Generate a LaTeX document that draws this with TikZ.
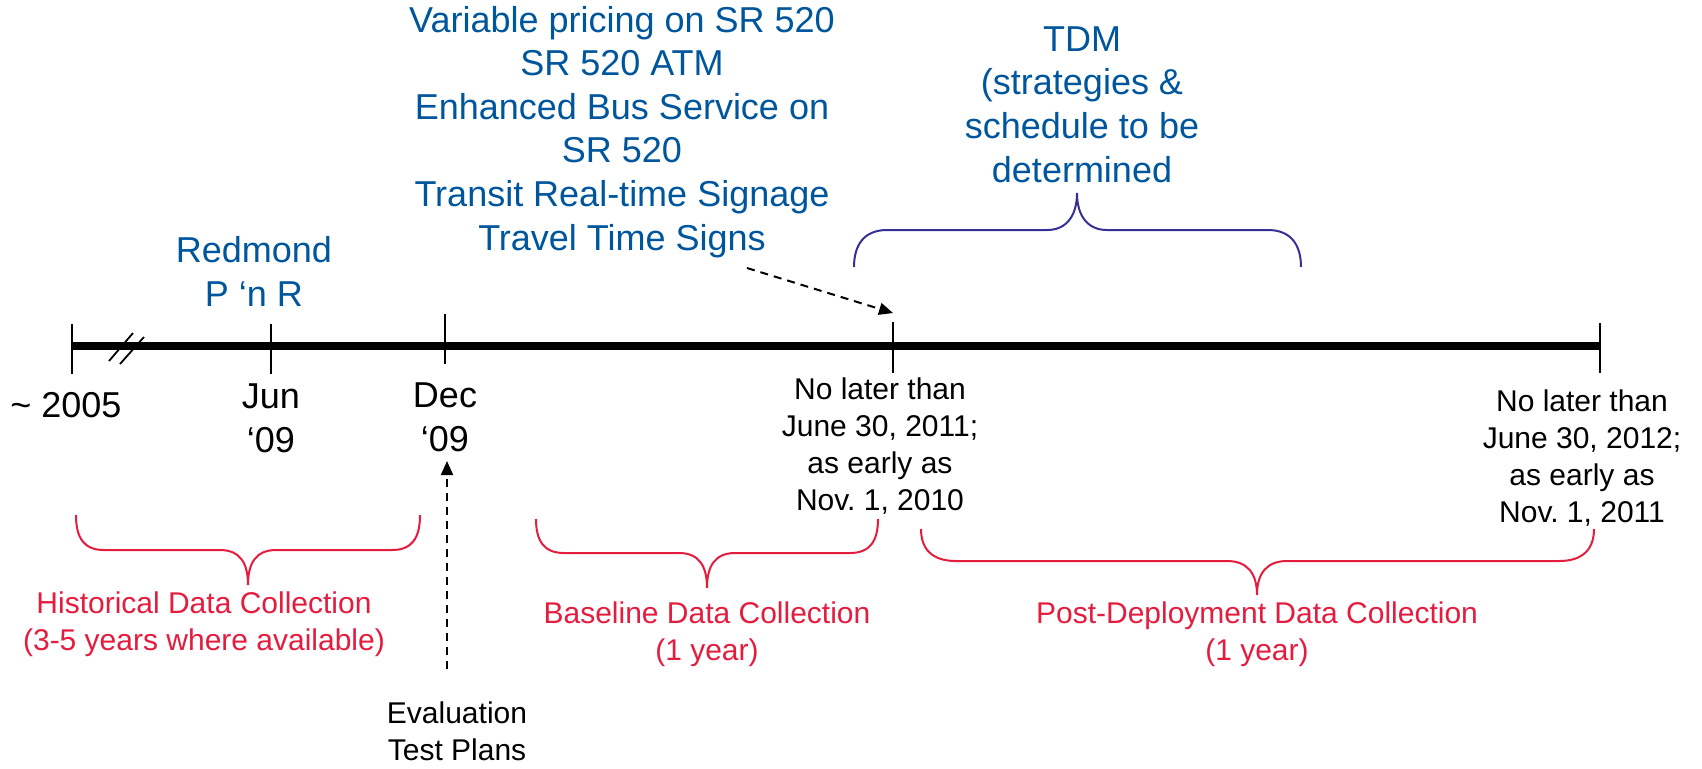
\documentclass[tikz,border=0pt]{standalone}
\usepackage{fontspec}
\setmainfont{Liberation Sans}
\usetikzlibrary{arrows.meta}
\frenchspacing
\definecolor{itemblue}{RGB}{0,86,156}
\definecolor{spanred}{RGB}{228,28,62}
\definecolor{tdmpurple}{RGB}{52,48,150}
\tikzset{
  big/.style={font=\fontsize{18}{21.8}\selectfont, align=center, inner sep=0pt, anchor=base},
  small/.style={font=\fontsize{15}{18.5}\selectfont, align=center, inner sep=0pt, anchor=base},
  axisline/.style={line width=4pt},
  tickmark/.style={line width=1.3pt},
  breakmark/.style={line width=0.9pt},
  spanbrace/.style={spanred, line width=1pt},
  tdmbrace/.style={tdmpurple, line width=1pt},
  pointer/.style={dash pattern=on 4pt off 3pt, line width=1pt, -{Triangle[length=7pt,width=6pt]}},
}
\begin{document}
\begin{tikzpicture}[x=0.5pt,y=-0.5pt]
\useasboundingbox (0,0) rectangle (1702,768);

% timeline
\coordinate (start) at (72,346);
\coordinate (finish) at (1600,346);
\draw[axisline] (start) -- (finish);
\draw[tickmark] (72,324) -- (72,374);
\draw[tickmark] (271,324) -- (271,374);
\draw[tickmark] (445,314) -- (445,364);
\draw[tickmark] (893,322) -- (893,373);
\draw[tickmark] (1600,323) -- (1600,373);
% break in the time scale
\draw[breakmark] (109,361) -- (133,333);
\draw[breakmark] (120,364) -- (144,337);

% dates under the timeline (anchored at the baseline of the last line)
\node[big] (d2005) at (66,417) {\textasciitilde{} 2005};
\node[big] (djun) at (271,452) {Jun\\‘09};
\node[big] (ddec) at (445,451) {Dec\\‘09};
\node[small] (ddeploy) at (880,510) {No later than\\June 30, 2011;\\as early as\\Nov. 1, 2010};
\node[small] (dend) at (1582,522) {No later than\\June 30, 2012;\\as early as\\Nov. 1, 2011};

% deployments above the timeline
\node[big, text=itemblue] (redmond) at (254,306) {Redmond\\P ‘n R};
\node[big, text=itemblue] (items) at (622,250) {Variable pricing on SR 520\\SR 520 ATM\\Enhanced Bus Service on\\SR 520\\Transit Real-time Signage\\Travel Time Signs};
\node[big, text=itemblue] (tdm) at (1082,182) {TDM\\(strategies \&\\schedule to be\\determined};

% TDM span
\draw[tdmbrace] (854,267) .. controls (854,245) and (864,230) .. (887,230) -- (1047,230)
  .. controls (1067,230) and (1077,215) .. (1077,193)
  .. controls (1077,215) and (1087,230) .. (1107,230) -- (1268,230)
  .. controls (1291,230) and (1301,245) .. (1301,267);

% data collection spans
\draw[spanbrace] (76,515) .. controls (76,538) and (84,550) .. (104,550) -- (220,550)
  .. controls (240,550) and (248,563) .. (248,585)
  .. controls (248,563) and (256,550) .. (276,550) -- (392,550)
  .. controls (412,550) and (420,538) .. (420,515);
\draw[spanbrace] (536,519) .. controls (536,541) and (544,553) .. (564,553) -- (679,553)
  .. controls (699,553) and (707,566) .. (707,588)
  .. controls (707,566) and (715,553) .. (735,553) -- (850,553)
  .. controls (870,553) and (878,541) .. (878,519);
\draw[spanbrace] (921,529) .. controls (921,549) and (932,561) .. (956,561) -- (1227,561)
  .. controls (1247,561) and (1257,573) .. (1257,595)
  .. controls (1257,573) and (1267,561) .. (1287,561) -- (1559,561)
  .. controls (1583,561) and (1594,549) .. (1594,529);

\node[small, text=spanred] (hist) at (204,650) {Historical Data Collection\\(3-5 years where available)};
\node[small, text=spanred] (base) at (707,660) {Baseline Data Collection\\(1 year)};
\node[small, text=spanred] (post) at (1257,660) {Post-Deployment Data Collection\\(1 year)};

% test plans
\node[small] (eval) at (457,760) {Evaluation\\Test Plans};

% pointers
\coordinate (itemsEnd) at (747,268);
\coordinate (deployTop) at (893,313);
\draw[pointer] (itemsEnd) -- (deployTop);
\coordinate (evalTop) at (447,669);
\coordinate (decBottom) at (447,461);
\draw[pointer] (evalTop) -- (decBottom);
\end{tikzpicture}
\end{document}
